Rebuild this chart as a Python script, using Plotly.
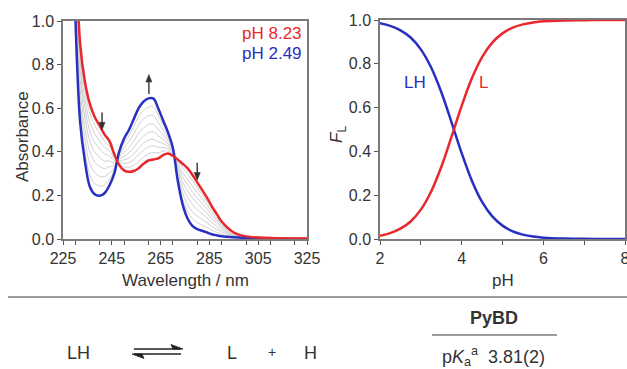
import plotly.graph_objects as go

W, H = 627, 369

# ---------------- data ----------------
wavelength = [230, 232, 234, 236, 238, 240, 242, 244, 246, 248, 250, 252, 254, 256, 258,
              260, 262, 264, 266, 268, 270, 272, 274, 276, 278, 280, 282, 284, 286, 288,
              290, 295, 300, 310, 325]

abs_ph823 = [1.45, 0.90, 0.72, 0.62, 0.56, 0.52, 0.48, 0.45, 0.39, 0.34, 0.315, 0.308, 0.312, 0.325, 0.345,
             0.36, 0.365, 0.37, 0.385, 0.392, 0.382, 0.365, 0.345, 0.325, 0.295, 0.26, 0.225, 0.19, 0.15, 0.115,
             0.08, 0.03, 0.012, 0.005, 0.002]

abs_ph249 = [1.05, 0.54, 0.355, 0.24, 0.205, 0.198, 0.21, 0.245, 0.30, 0.40, 0.46, 0.50, 0.55, 0.60, 0.63,
             0.645, 0.645, 0.60, 0.545, 0.49, 0.42, 0.27, 0.16, 0.095, 0.06, 0.045, 0.038, 0.03, 0.022, 0.017,
             0.013, 0.008, 0.005, 0.002, 0.0]

abs_intermediate = [
    [1.10, 0.590, 0.406, 0.293, 0.255, 0.243, 0.248, 0.274, 0.313, 0.392, 0.440, 0.473, 0.517, 0.562, 0.590,
     0.605, 0.606, 0.568, 0.523, 0.476, 0.415, 0.283, 0.186, 0.127, 0.093, 0.075, 0.064, 0.052, 0.040, 0.031,
     0.022, 0.011, 0.006, 0.003, 0.000],
    [1.14, 0.641, 0.457, 0.346, 0.304, 0.288, 0.286, 0.302, 0.325, 0.383, 0.419, 0.446, 0.483, 0.523, 0.550,
     0.565, 0.567, 0.536, 0.500, 0.463, 0.409, 0.297, 0.212, 0.159, 0.126, 0.105, 0.090, 0.075, 0.058, 0.044,
     0.032, 0.014, 0.007, 0.003, 0.001],
    [1.19, 0.691, 0.508, 0.400, 0.354, 0.333, 0.323, 0.331, 0.338, 0.375, 0.399, 0.419, 0.450, 0.485, 0.510,
     0.525, 0.527, 0.503, 0.478, 0.449, 0.404, 0.310, 0.238, 0.192, 0.159, 0.135, 0.117, 0.097, 0.076, 0.058,
     0.041, 0.017, 0.008, 0.003, 0.001],
    [1.23, 0.738, 0.556, 0.449, 0.400, 0.375, 0.358, 0.358, 0.349, 0.367, 0.380, 0.394, 0.419, 0.449, 0.473,
     0.488, 0.491, 0.474, 0.457, 0.436, 0.399, 0.322, 0.262, 0.221, 0.189, 0.163, 0.141, 0.118, 0.092, 0.071,
     0.050, 0.020, 0.009, 0.004, 0.001],
    [1.28, 0.781, 0.600, 0.495, 0.443, 0.414, 0.391, 0.382, 0.360, 0.360, 0.363, 0.371, 0.391, 0.416, 0.439,
     0.454, 0.457, 0.446, 0.438, 0.424, 0.395, 0.334, 0.284, 0.249, 0.217, 0.189, 0.163, 0.137, 0.108, 0.083,
     0.058, 0.023, 0.010, 0.004, 0.001],
    [1.33, 0.821, 0.640, 0.536, 0.482, 0.449, 0.421, 0.405, 0.370, 0.353, 0.347, 0.350, 0.364, 0.386, 0.408,
     0.423, 0.427, 0.421, 0.420, 0.414, 0.390, 0.344, 0.304, 0.274, 0.243, 0.213, 0.184, 0.155, 0.122, 0.093,
     0.065, 0.025, 0.010, 0.004, 0.002],
    [1.39, 0.860, 0.680, 0.578, 0.521, 0.485, 0.450, 0.427, 0.380, 0.347, 0.331, 0.329, 0.338, 0.355, 0.376,
     0.391, 0.396, 0.395, 0.403, 0.403, 0.386, 0.355, 0.325, 0.300, 0.269, 0.236, 0.204, 0.172, 0.136, 0.104,
     0.073, 0.028, 0.011, 0.005, 0.002],
]

ph = [2.0, 2.25, 2.5, 2.75, 3.0, 3.25, 3.5, 3.75, 4.0, 4.25, 4.5, 4.75, 5.0, 5.25, 5.5,
      5.75, 6.0, 6.5, 7.0, 7.5, 8.0]
frac_L = [0.015, 0.027, 0.047, 0.080, 0.134, 0.216, 0.329, 0.466, 0.608, 0.734, 0.831, 0.897, 0.939, 0.965, 0.980,
          0.989, 0.994, 0.998, 0.999, 1.0, 1.0]
frac_LH = [0.985, 0.973, 0.953, 0.920, 0.866, 0.784, 0.671, 0.534, 0.392, 0.266, 0.169, 0.103, 0.061, 0.035, 0.020,
           0.011, 0.006, 0.002, 0.001, 0.0, 0.0]

legend_labels = ["pH 8.23", "pH 2.49"]
species_labels = ["LH", "L"]
pka_text = "3.81(2)"
compound = "PyBD"

# ---------------- style ----------------
RED = "#e8282c"
BLUE = "#2730c0"
GRAY = "#d0d0d0"
TXT = "#333333"
FONT = "Liberation Sans, Arial, sans-serif"
FS = 16


def px(x):
    return x / W


def py(y):
    return 1 - y / H


fig = go.Figure()

for g in abs_intermediate:
    fig.add_trace(go.Scatter(x=wavelength, y=g, mode="lines", line=dict(color=GRAY, width=1, shape="spline"),
                             xaxis="x", yaxis="y", hoverinfo="skip", showlegend=False))
fig.add_trace(go.Scatter(x=wavelength, y=abs_ph249, mode="lines", line=dict(color=BLUE, width=2.5, shape="spline"),
                         xaxis="x", yaxis="y", showlegend=False))
fig.add_trace(go.Scatter(x=wavelength, y=abs_ph823, mode="lines", line=dict(color=RED, width=2.5, shape="spline"),
                         xaxis="x", yaxis="y", showlegend=False))

fig.add_trace(go.Scatter(x=ph, y=frac_LH, mode="lines", line=dict(color=BLUE, width=2.5, shape="spline"),
                         xaxis="x2", yaxis="y2", showlegend=False))
fig.add_trace(go.Scatter(x=ph, y=frac_L, mode="lines", line=dict(color=RED, width=2.5, shape="spline"),
                         xaxis="x2", yaxis="y2", showlegend=False))

axis_common = dict(showline=True, linecolor="#7a7a7a", linewidth=1.5, mirror=True, showgrid=False,
                   zeroline=False, ticks="outside", ticklen=4, tickwidth=1.2, tickcolor="#555555",
                   automargin=False, ticklabeloverflow="allow",
                   tickfont=dict(family=FONT, size=FS, color=TXT))

fig.update_layout(
    width=W, height=H, autosize=False,
    margin=dict(l=0, r=0, t=0, b=0, pad=0),
    paper_bgcolor="white", plot_bgcolor="white",
    xaxis=dict(domain=[px(63), px(307)], range=[225, 325], tick0=225, dtick=20,
               minor=dict(dtick=10, ticks="outside", ticklen=4, tickcolor="#555555", tickwidth=1.2),
               anchor="y", **axis_common),
    yaxis=dict(domain=[py(239), py(21)], range=[0, 1], dtick=0.2, tickformat=".1f", anchor="x", **axis_common),
    xaxis2=dict(domain=[px(380), px(625)], range=[2, 8], dtick=2,
                minor=dict(dtick=1, ticks="outside", ticklen=4, tickcolor="#555555", tickwidth=1.2),
                anchor="y2", **axis_common),
    yaxis2=dict(domain=[py(239), py(20)], range=[0, 1], dtick=0.2, tickformat=".1f", anchor="x2", **axis_common),
)

ann = []


def text(x, y, t, size=FS, color=TXT, angle=0, xanchor="center", weight="normal"):
    ann.append(dict(x=px(x), y=py(y), xref="paper", yref="paper", text=t, showarrow=False,
                    font=dict(family=FONT, size=size, color=color, weight=weight), textangle=angle,
                    xanchor=xanchor, yanchor="middle"))


# axis titles
text(185, 280, "Wavelength / nm", size=17)
text(22, 137, "Absorbance", size=17, angle=-90)
text(503, 280, "pH", size=17)
text(338, 135, "<i>F</i><sub>L</sub>", size=17, angle=-90)

# legend texts
text(304, 33, legend_labels[0], size=17, color=RED, xanchor="right")
text(304, 53, legend_labels[1], size=17, color=BLUE, xanchor="right")

# species labels on the right plot
text(415, 82, species_labels[0], size=17, color=BLUE)
text(483, 82, species_labels[1], size=17, color=RED)

# bottom scheme
text(78, 353, "LH", size=18)
text(232, 353, "L", size=18)
text(272, 352, "+", size=14)
text(310, 353, "H", size=18)
text(494, 318, compound, size=18, weight="bold")
text(493, 356, "p<i>K</i><sub>a</sub><sup>a</sup>  " + pka_text, size=18)

fig.update_layout(annotations=ann)

shapes = [
    dict(type="line", xref="paper", yref="paper", x0=px(8), x1=px(627), y0=py(297), y1=py(297),
         line=dict(color="#7a7a7a", width=1.5)),
    dict(type="line", xref="paper", yref="paper", x0=px(432), x1=px(557), y0=py(335), y1=py(335),
         line=dict(color="#7a7a7a", width=1.5)),
    # equilibrium arrows
    dict(type="line", xref="paper", yref="paper", x0=px(134), x1=px(181), y0=py(349), y1=py(349),
         line=dict(color="#222222", width=1.4)),
    dict(type="line", xref="paper", yref="paper", x0=px(134), x1=px(181), y0=py(354), y1=py(354),
         line=dict(color="#222222", width=1.4)),
    dict(type="path", xref="paper", yref="paper",
         path=f"M {px(183)} {py(349)} L {px(171)} {py(344.5)} L {px(173)} {py(349)} Z",
         fillcolor="#222222", line=dict(color="#222222", width=0.8)),
    dict(type="path", xref="paper", yref="paper",
         path=f"M {px(132)} {py(354)} L {px(144)} {py(358.5)} L {px(142)} {py(354)} Z",
         fillcolor="#222222", line=dict(color="#222222", width=0.8)),
]

# spectral change arrows drawn as shapes in the left plot's data coordinates
HW = 1.25      # half width of head, nm
HL = 0.035     # head length, absorbance units
for (lx, tail, head) in [(241, 0.58, 0.50), (260.2, 0.665, 0.755), (280, 0.35, 0.27)]:
    sgn = 1 if head > tail else -1
    shapes.append(dict(type="line", xref="x", yref="y", x0=lx, x1=lx, y0=tail, y1=head - sgn * HL * 0.6,
                       line=dict(color="#333333", width=1.4)))
    shapes.append(dict(type="path", xref="x", yref="y",
                       path=f"M {lx} {head} L {lx - HW} {head - sgn * HL} L {lx + HW} {head - sgn * HL} Z",
                       fillcolor="#333333", line=dict(color="#333333", width=0.5)))

fig.update_layout(shapes=shapes)

fig.write_html("out.html", config={"displayModeBar": False},
               post_script="document.body.style.margin='0px';document.body.style.overflow='hidden';")
